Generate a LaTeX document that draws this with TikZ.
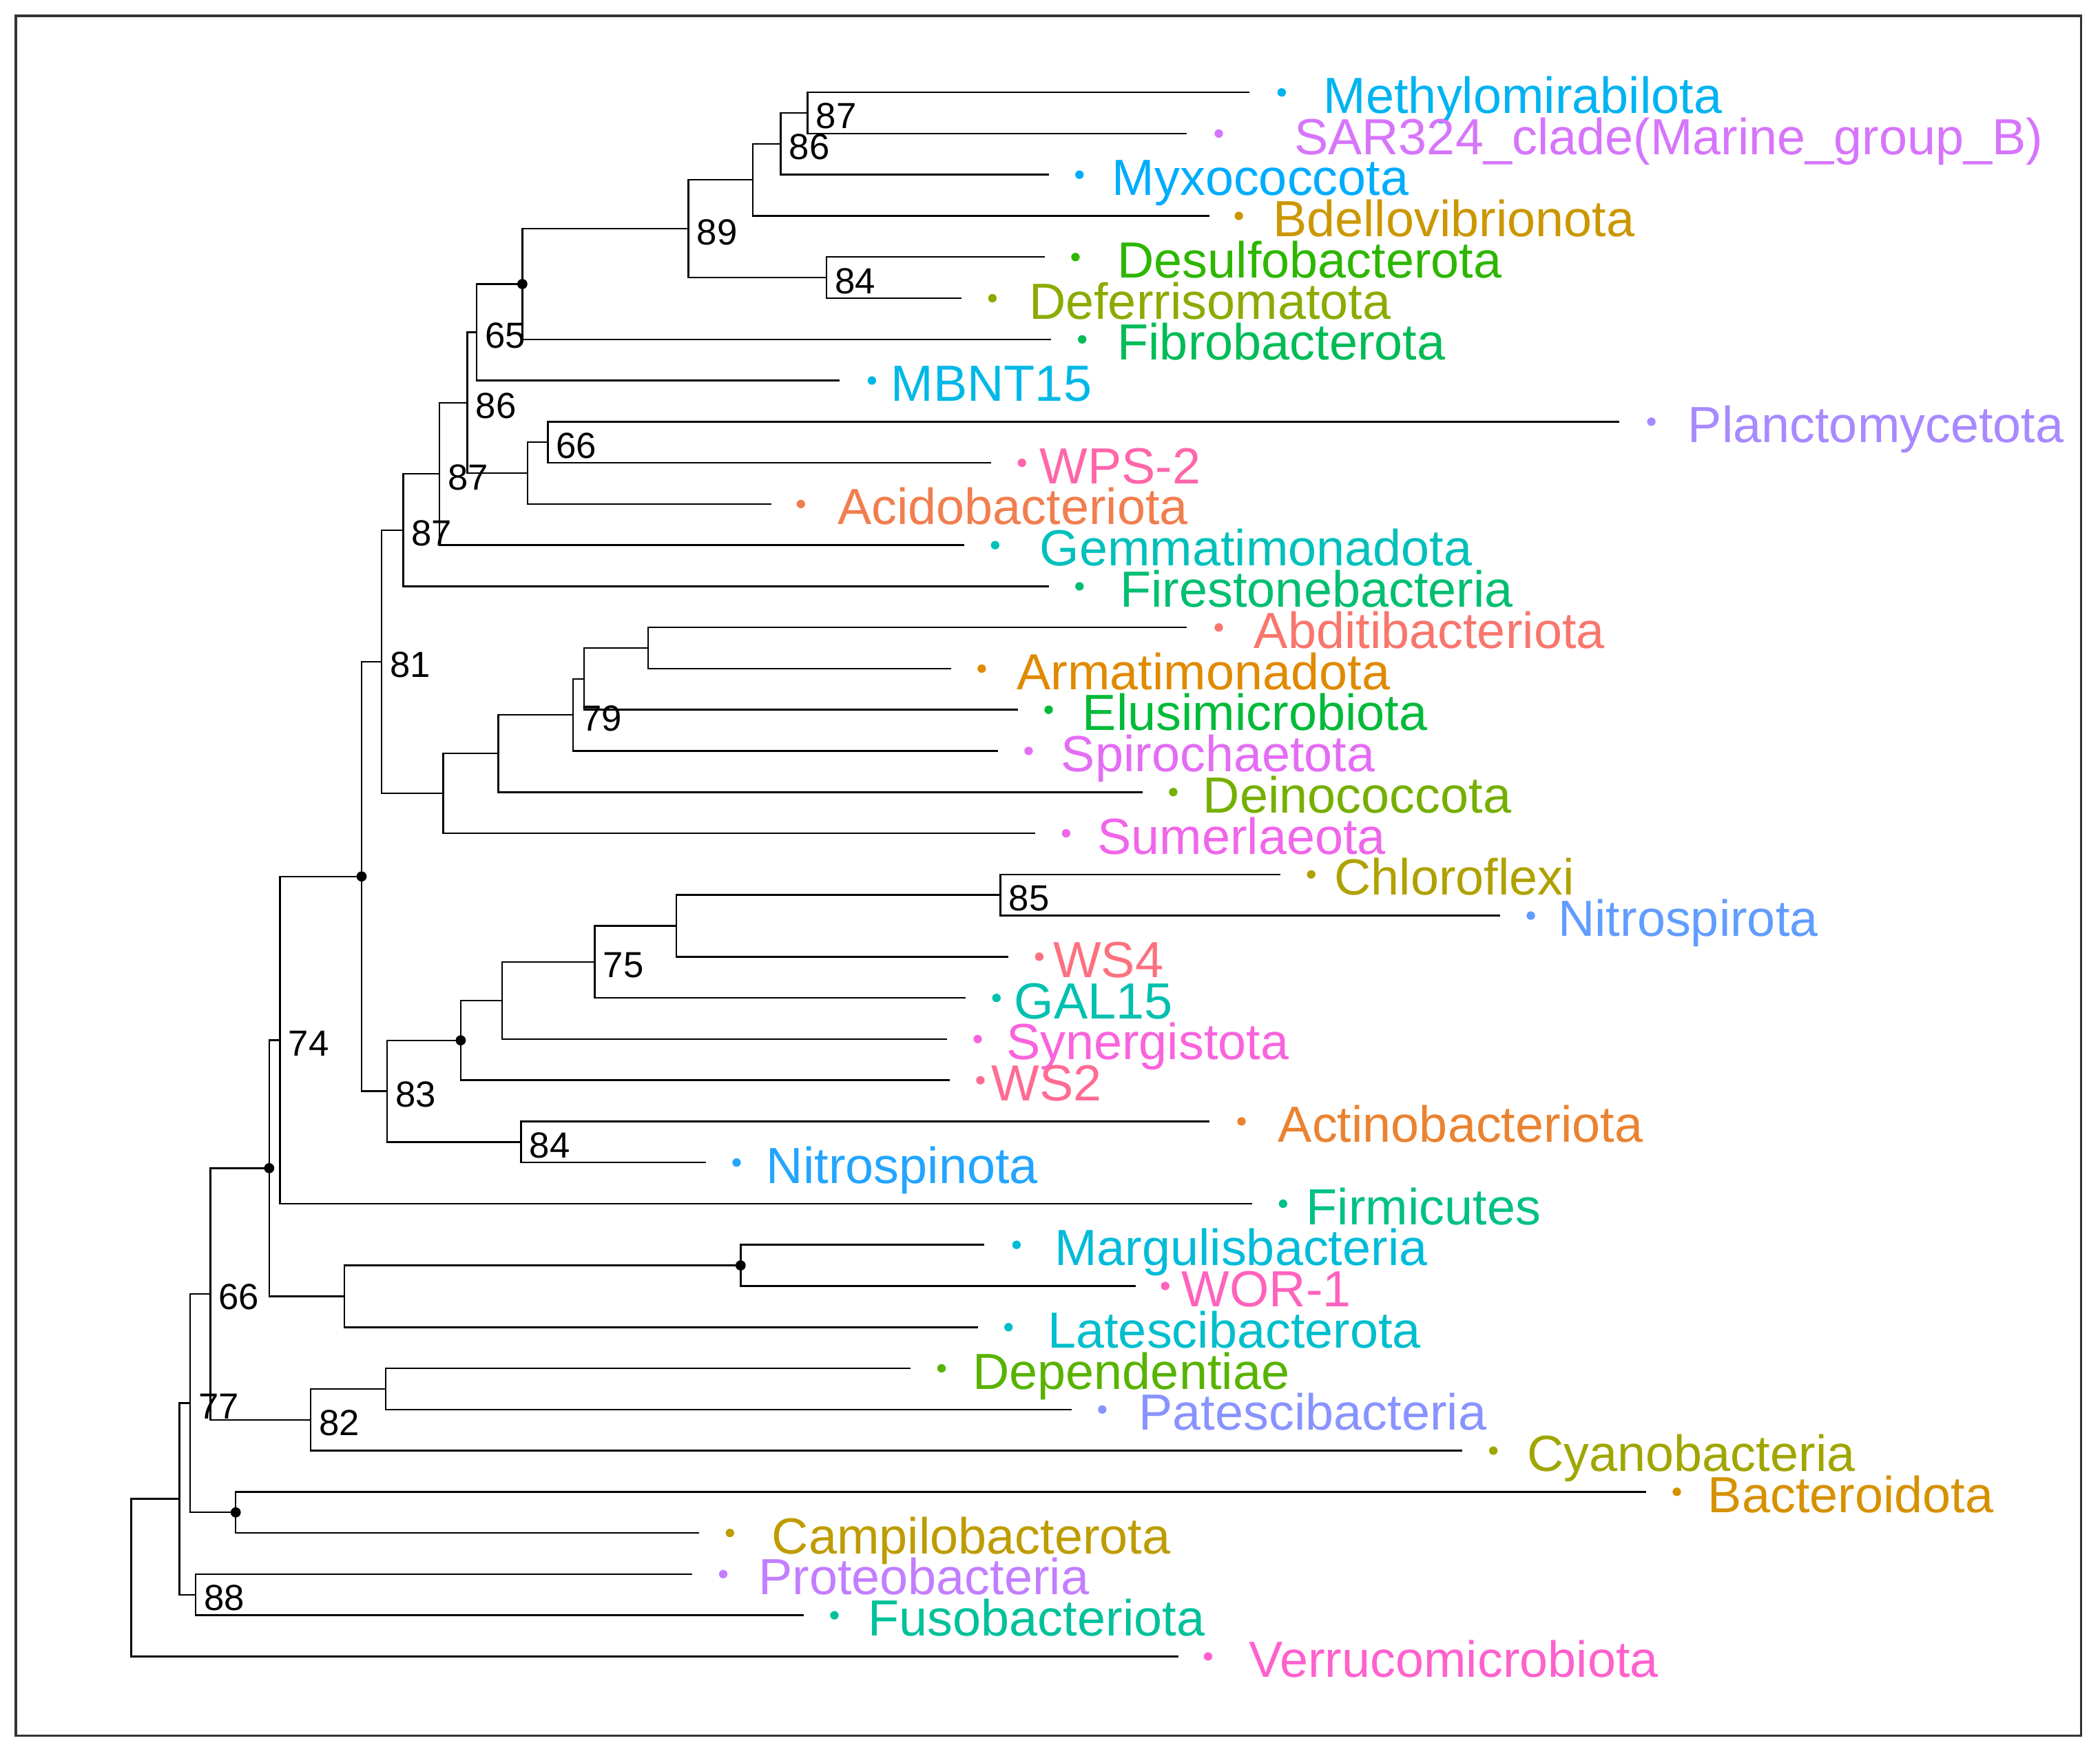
\documentclass[tikz,border=0pt]{standalone}
\usepackage{fontspec}
\setmainfont{Liberation Sans}

\definecolor{cMet}{HTML}{00B3F2}
\definecolor{cSAR}{HTML}{D675FC}
\definecolor{cMyx}{HTML}{00ACFC}
\definecolor{cBde}{HTML}{CB9700}
\definecolor{cDes}{HTML}{2DB600}
\definecolor{cDef}{HTML}{8BAB00}
\definecolor{cFib}{HTML}{00BC56}
\definecolor{cMBN}{HTML}{00B8E7}
\definecolor{cPla}{HTML}{A889FF}
\definecolor{cWPS}{HTML}{FF66AA}
\definecolor{cAci}{HTML}{F17E4F}
\definecolor{cGem}{HTML}{00C0BB}
\definecolor{cFst}{HTML}{00BE70}
\definecolor{cAbd}{HTML}{F8766D}
\definecolor{cArm}{HTML}{E08A00}
\definecolor{cElu}{HTML}{00BA38}
\definecolor{cSpi}{HTML}{E46DF5}
\definecolor{cDei}{HTML}{75AF00}
\definecolor{cSum}{HTML}{F066E9}
\definecolor{cChl}{HTML}{B0A100}
\definecolor{cNsr}{HTML}{619CFF}
\definecolor{cWSf}{HTML}{FC717F}
\definecolor{cGAL}{HTML}{00C0AF}
\definecolor{cSyn}{HTML}{F963DD}
\definecolor{cWSt}{HTML}{FF6B93}
\definecolor{cAct}{HTML}{EA8331}
\definecolor{cNsp}{HTML}{23A5FF}
\definecolor{cFrm}{HTML}{00C086}
\definecolor{cMar}{HTML}{00BBDA}
\definecolor{cWOR}{HTML}{FF62BE}
\definecolor{cLat}{HTML}{00BECC}
\definecolor{cDep}{HTML}{58B300}
\definecolor{cPat}{HTML}{8993FF}
\definecolor{cCya}{HTML}{A0A600}
\definecolor{cBac}{HTML}{D69100}
\definecolor{cCam}{HTML}{BE9C00}
\definecolor{cPro}{HTML}{C37EFF}
\definecolor{cFus}{HTML}{00C19A}
\definecolor{cVer}{HTML}{FE61CE}

\begin{document}
\begin{tikzpicture}[x=0.019445cm, y=-0.019445cm,
  branch/.style={line width=0.7pt, black},
  tipdot/.style={circle, inner sep=0, minimum size=3.5pt},
  joint/.style={circle, fill=black, inner sep=0, minimum size=4.2pt},
  tiplab/.style={anchor=west, inner sep=0, text height=15.1pt, text depth=0pt, yshift=-1pt, font=\fontsize{21}{25}\selectfont},
  boot/.style={anchor=west, inner sep=0, text height=10.8pt, text depth=0pt, xshift=3.3pt, yshift=-1.1pt, font=\fontsize{15}{18}\selectfont}]
\useasboundingbox (0,0) rectangle (1568,1311);
\draw[line width=0.9pt, black!80] (11.8,11.8) rectangle (1554,1296);
% Tips
\coordinate (e1) at (933,69.00);
\node[tipdot, fill=cMet] (p1) at (957,69.00) {};
\node[tiplab, text=cMet] (l1) at (988,69.00) {Methylomirabilota};
\coordinate (e2) at (886,99.74);
\node[tipdot, fill=cSAR] (p2) at (910,99.74) {};
\node[tiplab, text=cSAR] (l2) at (966,99.74) {SAR324\_clade(Marine\_group\_B)};
\coordinate (e3) at (783,130.47);
\node[tipdot, fill=cMyx] (p3) at (806,130.47) {};
\node[tiplab, text=cMyx] (l3) at (830,130.47) {Myxococcota};
\coordinate (e4) at (903,161.21);
\node[tipdot, fill=cBde] (p4) at (925,161.21) {};
\node[tiplab, text=cBde] (l4) at (950,161.21) {Bdellovibrionota};
\coordinate (e5) at (780,191.95);
\node[tipdot, fill=cDes] (p5) at (803,191.95) {};
\node[tiplab, text=cDes] (l5) at (834,191.95) {Desulfobacterota};
\coordinate (e6) at (718,222.69);
\node[tipdot, fill=cDef] (p6) at (741,222.69) {};
\node[tiplab, text=cDef] (l6) at (768,222.69) {Deferrisomatota};
\coordinate (e7) at (785,253.42);
\node[tipdot, fill=cFib] (p7) at (808,253.42) {};
\node[tiplab, text=cFib] (l7) at (834,253.42) {Fibrobacterota};
\coordinate (e8) at (627,284.16);
\node[tipdot, fill=cMBN] (p8) at (651,284.16) {};
\node[tiplab, text=cMBN] (l8) at (665,284.16) {MBNT15};
\coordinate (e9) at (1209,314.90);
\node[tipdot, fill=cPla] (p9) at (1233,314.90) {};
\node[tiplab, text=cPla] (l9) at (1260,314.90) {Planctomycetota};
\coordinate (e10) at (740,345.63);
\node[tipdot, fill=cWPS] (p10) at (763,345.63) {};
\node[tiplab, text=cWPS] (l10) at (776,345.63) {WPS-2};
\coordinate (e11) at (576,376.37);
\node[tipdot, fill=cAci] (p11) at (598,376.37) {};
\node[tiplab, text=cAci] (l11) at (625,376.37) {Acidobacteriota};
\coordinate (e12) at (720,407.11);
\node[tipdot, fill=cGem] (p12) at (743,407.11) {};
\node[tiplab, text=cGem] (l12) at (776,407.11) {Gemmatimonadota};
\coordinate (e13) at (783,437.84);
\node[tipdot, fill=cFst] (p13) at (806,437.84) {};
\node[tiplab, text=cFst] (l13) at (836,437.84) {Firestonebacteria};
\coordinate (e14) at (886,468.58);
\node[tipdot, fill=cAbd] (p14) at (910,468.58) {};
\node[tiplab, text=cAbd] (l14) at (936,468.58) {Abditibacteriota};
\coordinate (e15) at (710,499.32);
\node[tipdot, fill=cArm] (p15) at (733,499.32) {};
\node[tiplab, text=cArm] (l15) at (759,499.32) {Armatimonadota};
\coordinate (e16) at (760,530.05);
\node[tipdot, fill=cElu] (p16) at (783,530.05) {};
\node[tiplab, text=cElu] (l16) at (808,530.05) {Elusimicrobiota};
\coordinate (e17) at (745,560.79);
\node[tipdot, fill=cSpi] (p17) at (768,560.79) {};
\node[tiplab, text=cSpi] (l17) at (792,560.79) {Spirochaetota};
\coordinate (e18) at (853,591.53);
\node[tipdot, fill=cDei] (p18) at (876,591.53) {};
\node[tiplab, text=cDei] (l18) at (898,591.53) {Deinococcota};
\coordinate (e19) at (773,622.26);
\node[tipdot, fill=cSum] (p19) at (796,622.26) {};
\node[tiplab, text=cSum] (l19) at (819,622.26) {Sumerlaeota};
\coordinate (e20) at (956,653.00);
\node[tipdot, fill=cChl] (p20) at (979,653.00) {};
\node[tiplab, text=cChl] (l20) at (996,653.00) {Chloroflexi};
\coordinate (e21) at (1120,683.74);
\node[tipdot, fill=cNsr] (p21) at (1143,683.74) {};
\node[tiplab, text=cNsr] (l21) at (1163,683.74) {Nitrospirota};
\coordinate (e22) at (753,714.47);
\node[tipdot, fill=cWSf] (p22) at (776,714.47) {};
\node[tiplab, text=cWSf] (l22) at (786,714.47) {WS4};
\coordinate (e23) at (721,745.21);
\node[tipdot, fill=cGAL] (p23) at (744,745.21) {};
\node[tiplab, text=cGAL] (l23) at (757,745.21) {GAL15};
\coordinate (e24) at (707,775.95);
\node[tipdot, fill=cSyn] (p24) at (730,775.95) {};
\node[tiplab, text=cSyn] (l24) at (751,775.95) {Synergistota};
\coordinate (e25) at (709,806.69);
\node[tipdot, fill=cWSt] (p25) at (732,806.69) {};
\node[tiplab, text=cWSt] (l25) at (740,806.69) {WS2};
\coordinate (e26) at (903,837.42);
\node[tipdot, fill=cAct] (p26) at (927,837.42) {};
\node[tiplab, text=cAct] (l26) at (954,837.42) {Actinobacteriota};
\coordinate (e27) at (527,868.16);
\node[tipdot, fill=cNsp] (p27) at (550,868.16) {};
\node[tiplab, text=cNsp] (l27) at (572,868.16) {Nitrospinota};
\coordinate (e28) at (935,898.90);
\node[tipdot, fill=cFrm] (p28) at (958,898.90) {};
\node[tiplab, text=cFrm] (l28) at (975,898.90) {Firmicutes};
\coordinate (e29) at (735,929.63);
\node[tipdot, fill=cMar] (p29) at (759,929.63) {};
\node[tiplab, text=cMar] (l29) at (787,929.63) {Margulisbacteria};
\coordinate (e30) at (848,960.37);
\node[tipdot, fill=cWOR] (p30) at (870,960.37) {};
\node[tiplab, text=cWOR] (l30) at (882,960.37) {WOR-1};
\coordinate (e31) at (730,991.11);
\node[tipdot, fill=cLat] (p31) at (753,991.11) {};
\node[tiplab, text=cLat] (l31) at (782,991.11) {Latescibacterota};
\coordinate (e32) at (680,1021.84);
\node[tipdot, fill=cDep] (p32) at (703,1021.84) {};
\node[tiplab, text=cDep] (l32) at (726,1021.84) {Dependentiae};
\coordinate (e33) at (800,1052.58);
\node[tipdot, fill=cPat] (p33) at (823,1052.58) {};
\node[tiplab, text=cPat] (l33) at (850,1052.58) {Patescibacteria};
\coordinate (e34) at (1092,1083.32);
\node[tipdot, fill=cCya] (p34) at (1115,1083.32) {};
\node[tiplab, text=cCya] (l34) at (1140,1083.32) {Cyanobacteria};
\coordinate (e35) at (1229,1114.05);
\node[tipdot, fill=cBac] (p35) at (1252,1114.05) {};
\node[tiplab, text=cBac] (l35) at (1275,1114.05) {Bacteroidota};
\coordinate (e36) at (522,1144.79);
\node[tipdot, fill=cCam] (p36) at (545,1144.79) {};
\node[tiplab, text=cCam] (l36) at (576,1144.79) {Campilobacterota};
\coordinate (e37) at (517,1175.53);
\node[tipdot, fill=cPro] (p37) at (540,1175.53) {};
\node[tiplab, text=cPro] (l37) at (566,1175.53) {Proteobacteria};
\coordinate (e38) at (600,1206.26);
\node[tipdot, fill=cFus] (p38) at (623,1206.26) {};
\node[tiplab, text=cFus] (l38) at (648,1206.26) {Fusobacteriota};
\coordinate (e39) at (880,1237.00);
\node[tipdot, fill=cVer] (p39) at (902,1237.00) {};
\node[tiplab, text=cVer] (l39) at (932,1237.00) {Verrucomicrobiota};
% Inner nodes
\coordinate (n87a) at (603,84.37);
\coordinate (n86a) at (583,107.42);
\coordinate (n562) at (562,134.32);
\coordinate (n84a) at (617,207.32);
\coordinate (n89) at (514,170.82);
\coordinate (d1) at (390,212.12);
\coordinate (n65) at (356,248.14);
\coordinate (n66a) at (409,330.27);
\coordinate (n394) at (394,353.32);
\coordinate (n86b) at (349,300.73);
\coordinate (n87b) at (328,353.92);
\coordinate (n87c) at (301,395.88);
\coordinate (n484) at (484,483.95);
\coordinate (n436) at (436,507.00);
\coordinate (n79) at (428,533.90);
\coordinate (n372) at (372,562.71);
\coordinate (n331) at (331,592.49);
\coordinate (n81) at (285,494.18);
\coordinate (n85) at (747,668.37);
\coordinate (n505) at (505,691.42);
\coordinate (n75) at (444,718.32);
\coordinate (n375) at (375,747.13);
\coordinate (d3) at (344,776.91);
\coordinate (n84b) at (389,852.79);
\coordinate (n83) at (289,814.85);
\coordinate (d2) at (270,654.52);
\coordinate (n74) at (209,776.71);
\coordinate (d5) at (553,945.00);
\coordinate (n257) at (257,968.05);
\coordinate (d4) at (201,872.38);
\coordinate (n288) at (288,1037.21);
\coordinate (n82) at (232,1060.27);
\coordinate (n66b) at (157,966.32);
\coordinate (d6) at (176,1129.42);
\coordinate (n77) at (142,1047.87);
\coordinate (n88) at (146,1190.90);
\coordinate (n134) at (134,1119.38);
\coordinate (root) at (98,1178.19);
% Branches
\draw[branch] (root) |- (n134) (root) |- (e39);
\draw[branch] (n134) |- (n77) (n134) |- (n88);
\draw[branch] (n88) |- (e37) (n88) |- (e38);
\draw[branch] (n77) |- (n66b) (n77) |- (d6);
\draw[branch] (d6) |- (e35) (d6) |- (e36);
\draw[branch] (n66b) |- (d4) (n66b) |- (n82);
\draw[branch] (n82) |- (n288) (n82) |- (e34);
\draw[branch] (n288) |- (e32) (n288) |- (e33);
\draw[branch] (d4) |- (n74) (d4) |- (n257);
\draw[branch] (n257) |- (d5) (n257) |- (e31);
\draw[branch] (d5) |- (e29) (d5) |- (e30);
\draw[branch] (n74) |- (d2) (n74) |- (e28);
\draw[branch] (d2) |- (n81) (d2) |- (n83);
\draw[branch] (n83) |- (d3) (n83) |- (n84b);
\draw[branch] (n84b) |- (e26) (n84b) |- (e27);
\draw[branch] (d3) |- (n375) (d3) |- (e25);
\draw[branch] (n375) |- (n75) (n375) |- (e24);
\draw[branch] (n75) |- (n505) (n75) |- (e23);
\draw[branch] (n505) |- (n85) (n505) |- (e22);
\draw[branch] (n85) |- (e20) (n85) |- (e21);
\draw[branch] (n81) |- (n87c) (n81) |- (n331);
\draw[branch] (n331) |- (n372) (n331) |- (e19);
\draw[branch] (n372) |- (n79) (n372) |- (e18);
\draw[branch] (n79) |- (n436) (n79) |- (e17);
\draw[branch] (n436) |- (n484) (n436) |- (e16);
\draw[branch] (n484) |- (e14) (n484) |- (e15);
\draw[branch] (n87c) |- (n87b) (n87c) |- (e13);
\draw[branch] (n87b) |- (n86b) (n87b) |- (e12);
\draw[branch] (n86b) |- (n65) (n86b) |- (n394);
\draw[branch] (n394) |- (n66a) (n394) |- (e11);
\draw[branch] (n66a) |- (e9) (n66a) |- (e10);
\draw[branch] (n65) |- (d1) (n65) |- (e8);
\draw[branch] (d1) |- (n89) (d1) |- (e7);
\draw[branch] (n89) |- (n562) (n89) |- (n84a);
\draw[branch] (n84a) |- (e5) (n84a) |- (e6);
\draw[branch] (n562) |- (n86a) (n562) |- (e4);
\draw[branch] (n86a) |- (n87a) (n86a) |- (e3);
\draw[branch] (n87a) |- (e1) (n87a) |- (e2);
% Joints
\node[joint] (j1) at (d1) {};
\node[joint] (j2) at (d2) {};
\node[joint] (j3) at (d3) {};
\node[joint] (j4) at (d4) {};
\node[joint] (j5) at (d5) {};
\node[joint] (j6) at (d6) {};
% Support values:
\node[boot] (b1) at (n87a) {87};
\node[boot] (b2) at (n86a) {86};
\node[boot] (b3) at (n89) {89};
\node[boot] (b4) at (n84a) {84};
\node[boot] (b5) at (n65) {65};
\node[boot] (b6) at (n86b) {86};
\node[boot] (b7) at (n66a) {66};
\node[boot] (b8) at (n87b) {87};
\node[boot] (b9) at (n87c) {87};
\node[boot] (b10) at (n81) {81};
\node[boot] (b11) at (n79) {79};
\node[boot] (b12) at (n85) {85};
\node[boot] (b13) at (n75) {75};
\node[boot] (b14) at (n83) {83};
\node[boot] (b15) at (n84b) {84};
\node[boot] (b16) at (n74) {74};
\node[boot] (b17) at (n66b) {66};
\node[boot] (b18) at (n77) {77};
\node[boot] (b19) at (n82) {82};
\node[boot] (b20) at (n88) {88};
\end{tikzpicture}
\end{document}
